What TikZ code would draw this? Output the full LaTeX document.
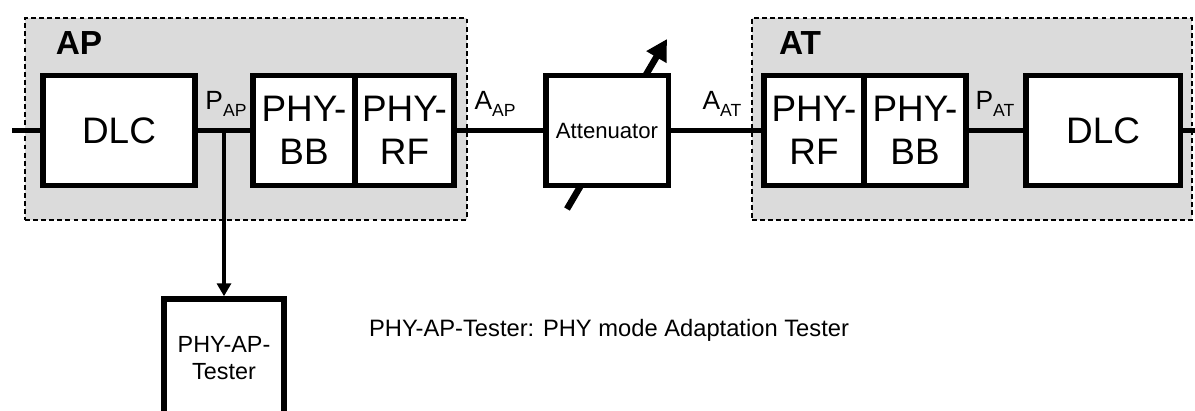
\documentclass[tikz,border=0pt]{standalone}
\usepackage{fontspec}
\setmainfont{Liberation Sans}
\usetikzlibrary{arrows.meta,positioning}

\newcommand{\sublbl}[2]{#1\raisebox{-0.5ex}{\fontsize{10}{10}\selectfont #2}}

\begin{document}
\begin{tikzpicture}[
  x=0.02cm, y=-0.02cm,
  frame/.style={draw, dash pattern=on 2.8pt off 1.8pt, line width=0.055cm, fill=gray!28, inner sep=0pt},
  block/.style={draw, line width=0.11cm, fill=white, inner sep=0pt, minimum height=2.2cm, align=center, font=\fontsize{21}{24.5}\selectfont},
  link/.style={line width=0.09cm},
  arrow/.style={line width=0.09cm, -{Triangle[length=0.26cm,width=0.28cm]}}
]
  \useasboundingbox (0,0) rectangle (1195,410);

  % station frames
  \node[frame, minimum width=8.84cm, minimum height=4.04cm] (apframe) at (246,119) {};
  \node[frame, minimum width=8.80cm, minimum height=4.04cm] (atframe) at (972,119) {};
  \node[font=\fontsize{19}{19}\selectfont\bfseries] (aplbl) at (79,43) {AP};
  \node[font=\fontsize{19}{19}\selectfont\bfseries] (atlbl) at (800,43) {AT};

  % variable attenuator arrow (behind the box)
  \coordinate (attlo) at (567,209);
  \coordinate (atthi) at (667,39);
  \draw[line width=0.13cm, -{Triangle[length=0.42cm,width=0.44cm]}] (attlo) -- (atthi);

  % blocks
  \node[block, minimum width=3.05cm] (dlcap) at (119,130.5) {DLC};
  \node[block, minimum width=2.04cm] (bbap) at (304,130.5) {PHY-\\BB};
  \node[block, minimum width=1.98cm] (rfap) at (404.5,130.5) {PHY-\\RF};
  \node[block, minimum width=2.45cm, font=\fontsize{12.6}{14}\selectfont] (att) at (607,130.5) {Attenuator};
  \node[block, minimum width=2.00cm] (rfat) at (814,130.5) {PHY-\\RF};
  \node[block, minimum width=2.04cm] (bbat) at (915,130.5) {PHY-\\BB};
  \node[block, minimum width=3.09cm] (dlcat) at (1103,130.5) {DLC};
  \node[block, minimum width=2.41cm, minimum height=2.36cm, font=\fontsize{13.3}{15.5}\selectfont] (tester) at (224,358) {PHY-AP-\\Tester};

  % connectors
  \coordinate (inap) at (12,130.5);
  \coordinate (outat) at (1195,130.5);
  \coordinate (papjoin) at (224,130.5);
  \draw[link] (inap) -- (dlcap.west);
  \draw[link] (dlcap.east) -- (bbap.west);
  \draw[link] (rfap.east) -- (att.west);
  \draw[link] (att.east) -- (rfat.west);
  \draw[link] (bbat.east) -- (dlcat.west);
  \draw[link] (dlcat.east) -- (outat);
  \draw[arrow] (papjoin) -- (tester.north);

  % interface labels
  \node[font=\fontsize{15}{15}\selectfont] (pap) at (226,104) {\sublbl{P}{AP}};
  \node[font=\fontsize{15}{15}\selectfont] (aap) at (495,104) {\sublbl{A}{AP}};
  \node[font=\fontsize{15}{15}\selectfont] (aat) at (722,104) {\sublbl{A}{AT}};
  \node[font=\fontsize{15}{15}\selectfont] (pat) at (995,104) {\sublbl{P}{AT}};

  \node[font=\fontsize{13.5}{15}\selectfont] (note) at (609,330) {PHY-AP-Tester: PHY mode Adaptation Tester};
\end{tikzpicture}
\end{document}
